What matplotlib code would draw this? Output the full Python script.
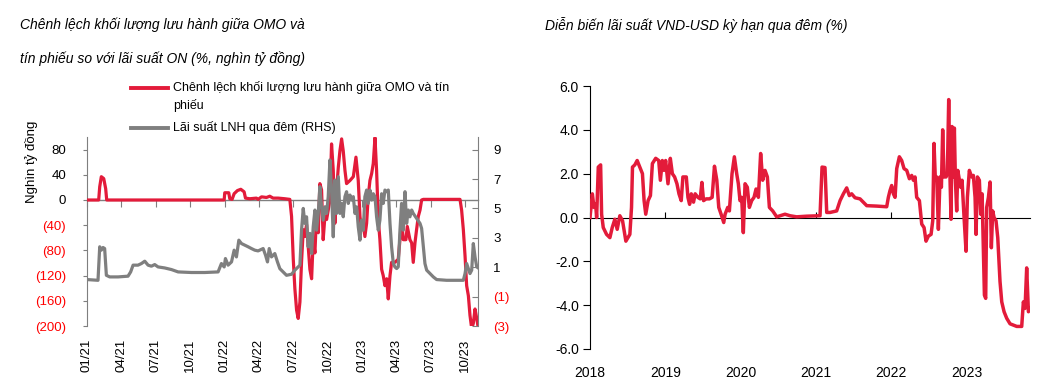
import matplotlib
matplotlib.use("Agg")
import matplotlib.pyplot as plt
from matplotlib.lines import Line2D

plt.rcParams['font.family'] = ['Liberation Sans', 'DejaVu Sans']

RED = '#E31B3A'
GRAY = '#7F7F7F'
LABEL_RED = '#FF0000'

# ---------------- Left chart data (x = months since 01/2021) ----------------
left_xticks = [0, 3, 6, 9, 12, 15, 18, 21, 24, 27, 30, 33]
left_xticklabels = ["01/21", "04/21", "07/21", "10/21", "01/22", "04/22",
                    "07/22", "10/22", "01/23", "04/23", "07/23", "10/23"]
left_yticks = [-200, -160, -120, -80, -40, 0, 40, 80]
left_yticklabels = ["(200)", "(160)", "(120)", "(80)", "(40)", "0", "40", "80"]
right_yticks = [-3, -1, 1, 3, 5, 7, 9]
right_yticklabels = ["(3)", "(1)", "1", "3", "5", "7", "9"]

omo_t = [0.0, 1.02, 1.11, 1.25, 1.46, 1.63, 1.72,
         11.97, 12.02, 12.37, 12.46, 12.66, 12.84, 13.13, 13.42, 13.71, 13.83, 14.21,
         14.79, 14.93, 15.23, 15.66, 15.95, 16.24, 16.68, 17.26,
         17.70, 17.85, 18.0, 18.14, 18.29, 18.43, 18.58, 18.72, 18.87, 19.01,
         19.16, 19.30, 19.45, 19.60, 19.74, 19.89, 20.03, 20.18, 20.32, 20.47,
         20.61, 20.76, 20.91, 21.05, 21.20, 21.34, 21.49, 21.63, 21.78, 21.93,
         22.07, 22.22, 22.36, 22.51, 22.65, 22.95, 23.24, 23.47, 23.67, 23.82,
         23.96, 24.11, 24.25, 24.40, 24.54, 24.69, 24.84, 24.98, 25.13, 25.27,
         25.42, 25.56, 25.71, 25.85, 26.00, 26.15, 26.29, 26.44, 26.58, 26.87,
         27.16, 27.31, 27.45, 27.60, 27.83, 27.95, 28.18, 28.33, 28.47, 28.62,
         28.76, 28.91, 29.06, 29.20, 29.35,
         32.55, 32.69, 32.84, 32.99, 33.13, 33.28, 33.42, 33.57, 33.71, 33.86, 34.01, 34.15]
omo_v = [0, 0, 21, 37, 34, 18, 0,
         0, 11.5, 11.5, 2, 1, 10, 15, 17, 13, 3, 2, 3, 1, 5, 4, 6, 3, 3, 2,
         1, -26, -94, -141, -175, -188, -162, -99, -47, -58,
         -39, -73, -110, -125, -63, -84, -21, -52, 26, 16,
         -63, -26, -31, -16, 0, 89, 47, -37, 16, 52,
         78, 97, 78, 47, 26, 31, 37, 68, 31, -26,
         -47, -37, -58, -37, 5, 31, 42, 58, 99, 47,
         -31, -63, -110, -120, -136, -125, -157, -120, -99, -99,
         -94, -63, -31, -63, -63, -42, -63, -68, -99, -68,
         -47, -26, -16, 0, 1,
         1, -16, -47, -89, -136, -152, -183, -204, -196, -173, -188, -204]

lnh_t = [0.0, 0.96, 1.11, 1.25, 1.40, 1.54, 1.69, 1.98, 2.71, 3.58,
         3.81, 4.02, 4.45, 4.75, 5.04, 5.33, 5.62, 5.91, 6.20, 6.78,
         7.37, 7.95, 9.11, 10.28, 11.44, 11.73, 11.97, 12.08, 12.31, 12.61,
         12.84, 13.04, 13.25, 13.48, 13.77, 14.06, 14.35, 14.64, 14.93, 15.37,
         15.58, 15.75, 15.90, 16.10, 16.39, 16.62, 16.83, 17.12, 17.41, 17.85,
         18.14, 18.43, 18.58, 18.72, 18.87, 19.01, 19.16, 19.30, 19.45, 19.60,
         19.74, 19.89, 20.03, 20.18, 20.32, 20.47, 20.61, 20.76, 20.91, 21.05,
         21.20, 21.34, 21.49, 21.63, 21.78, 21.93, 22.07, 22.22, 22.36, 22.51,
         22.65, 22.80, 22.95, 23.09, 23.24, 23.38, 23.53, 23.67, 23.82, 23.96,
         24.11, 24.25, 24.40, 24.54, 24.69, 24.84, 24.98, 25.13, 25.27, 25.42,
         25.56, 25.71, 25.85, 26.00, 26.15, 26.29, 26.44, 26.58, 26.73, 26.87,
         27.02, 27.16, 27.31, 27.45, 27.60, 27.75, 27.89, 28.04, 28.18, 28.33,
         28.47, 28.76, 29.06, 29.20, 29.35, 29.49, 29.64, 29.93, 30.22, 30.51,
         31.38, 32.84, 32.99, 33.13, 33.28, 33.42, 33.57, 33.71, 33.86, 34.01,
         34.21]
lnh_v = [0.16, 0.11, 2.39, 2.16, 2.34, 2.27, 0.45, 0.34, 0.34, 0.39,
         0.68, 1.14, 1.14, 1.25, 1.41, 1.14, 1.07, 1.18, 1.02, 0.95,
         0.84, 0.68, 0.64, 0.64, 0.68, 1.25, 1.02, 1.59, 1.14, 1.36,
         2.16, 1.7, 2.84, 2.61, 2.5, 2.39, 2.27, 2.16, 2.11, 2.27,
         1.82, 1.36, 2.27, 1.7, 1.93, 1.36, 0.9, 0.68, 0.45, 0.52,
         0.8, 1.02, 1.14, 3.52, 5.0, 3.98, 4.43, 2.39, 3.3, 1.93,
         3.75, 4.89, 3.52, 4.66, 6.48, 5.11, 4.2, 5.11, 4.66, 5.8,
         8.3, 6.25, 3.07, 6.93, 4.66, 7.16, 4.66, 5.34, 4.43, 5.8,
         6.14, 5.34, 5.91, 5.57, 5.8, 4.66, 5.11, 3.75, 2.84, 4.2,
         3.52, 5.8, 6.25, 5.34, 6.25, 5.57, 6.0, 5.8, 4.43, 3.52,
         4.2, 6.0, 5.34, 6.25, 6.14, 6.25, 3.98, 2.39, 1.25, 1.02,
         0.91, 1.02, 3.52, 5.34, 3.52, 6.14, 3.98, 4.89, 4.43, 4.89,
         4.66, 4.32, 3.98, 3.64, 2.39, 1.25, 0.8, 0.57, 0.34, 0.16,
         0.11, 0.11, 0.57, 1.25, 0.91, 0.57, 0.8, 2.61, 1.7, 1.02,
         0.91]

# ---------------- Right chart data (x = decimal year) ----------------
year_ticks = [2018, 2019, 2020, 2021, 2022, 2023]
year_labels = ["2018", "2019", "2020", "2021", "2022", "2023"]
vnd_yticks = [-6, -4, -2, 0, 2, 4, 6]
vnd_yticklabels = ["-6.0", "-4.0", "-2.0", "0.0", "2.0", "4.0", "6.0"]

vnd_t = [2018.000, 2018.031, 2018.053, 2018.075, 2018.088, 2018.110, 2018.141, 2018.154,
         2018.176, 2018.220, 2018.264, 2018.295, 2018.330, 2018.361, 2018.396, 2018.432,
         2018.476, 2018.529, 2018.551, 2018.564, 2018.595, 2018.626, 2018.661, 2018.696,
         2018.718, 2018.740, 2018.771, 2018.802, 2018.828, 2018.872, 2018.912, 2018.934,
         2018.960, 2018.982, 2019.004, 2019.035, 2019.066, 2019.093, 2019.123, 2019.154,
         2019.181, 2019.211, 2019.233, 2019.278, 2019.300, 2019.322, 2019.344, 2019.374,
         2019.396, 2019.432, 2019.463, 2019.485, 2019.507, 2019.542, 2019.586, 2019.621,
         2019.652, 2019.683, 2019.709, 2019.740, 2019.775, 2019.793, 2019.828, 2019.850,
         2019.885, 2019.916, 2019.947,
         2019.969, 2019.991, 2020.013, 2020.035, 2020.058, 2020.088, 2020.115, 2020.146,
         2020.177, 2020.204, 2020.235, 2020.265, 2020.292, 2020.323, 2020.354, 2020.381,
         2020.425, 2020.478, 2020.522, 2020.588, 2020.655, 2020.743, 2020.876, 2021.053,
         2021.080, 2021.119, 2021.142, 2021.186, 2021.274, 2021.319, 2021.363, 2021.407,
         2021.442, 2021.473, 2021.518, 2021.584, 2021.628, 2021.673, 2021.805,
         2021.938, 2021.960, 2021.982, 2022.004, 2022.027, 2022.049, 2022.071, 2022.106,
         2022.137, 2022.168, 2022.204, 2022.239, 2022.270, 2022.292, 2022.314, 2022.336,
         2022.372, 2022.403, 2022.434, 2022.460, 2022.491, 2022.527, 2022.549, 2022.566,
         2022.584, 2022.602, 2022.624, 2022.646, 2022.664, 2022.681, 2022.699, 2022.726,
         2022.743, 2022.761, 2022.779, 2022.792, 2022.805, 2022.823, 2022.836, 2022.850,
         2022.867, 2022.881, 2022.903, 2022.920, 2022.938, 2022.965, 2022.991, 2023.009,
         2023.035, 2023.066, 2023.088, 2023.111, 2023.124, 2023.142, 2023.168, 2023.186,
         2023.204, 2023.221, 2023.235, 2023.252, 2023.265, 2023.288, 2023.310, 2023.327,
         2023.345, 2023.363, 2023.389, 2023.412, 2023.442, 2023.465, 2023.496, 2023.531,
         2023.575, 2023.664, 2023.730, 2023.752, 2023.774, 2023.796, 2023.819, 2023.841]
vnd_v = [0.0, 1.08, 0.46, 0.6, 0.0, 2.3, 2.4, 0.15,
         -0.46, -0.77, -0.92, -0.46, -0.08, -0.54, 0.08, -0.15,
         -1.08, -0.77, 0.46, 2.3, 2.4, 2.6, 2.3, 2.0,
         0.77, 0.15, 0.77, 1.0, 2.46, 2.7, 2.6, 1.7,
         2.6, 2.15, 2.6, 1.54, 2.7, 2.0, 1.85, 1.54,
         1.08, 0.77, 1.85, 1.85, 0.92, 0.6, 1.08, 0.7,
         1.08, 0.92, 0.85, 1.6, 0.77, 0.85, 0.85, 0.92,
         2.34, 1.7, 0.46, 0.15, -0.23, 0.15, 0.46, 0.3,
         2.0, 2.77, 2.0,
         1.54, 0.77, 0.92, -0.69, 1.54, 1.38, 0.46, 0.77,
         0.92, 1.3, 0.92, 2.92, 1.7, 2.15, 1.85, 0.46,
         0.3, 0.03, 0.08, 0.15, 0.08, 0.03, 0.06, 0.08,
         2.3, 2.28, 0.23, 0.23, 0.3, 0.77, 1.08, 1.35,
         1.0, 1.08, 0.9, 0.85, 0.7, 0.54, 0.52,
         0.49, 0.92, 1.23, 1.46, 1.08, 0.92, 2.23, 2.77,
         2.6, 2.23, 2.15, 1.77, 1.92, 1.7, 1.85, 0.92,
         0.77, -0.3, -0.46, -1.08, -0.85, -0.77, -0.15, 3.38,
         1.7, 1.85, -0.54, 1.85, 1.38, 4.0, 1.85, 1.85,
         2.0, 5.38, 1.7, -0.08, 4.15, 1.85, 4.08, 1.7,
         0.3, 2.15, 1.7, 1.38, 1.7, 0.0, -1.54, 0.92,
         2.15, 1.85, 1.92, 0.92, -0.77, 1.85, 1.7, 0.15,
         1.08, -1.38, -3.54, -3.69, 0.46, 0.92, 1.62, -1.38,
         0.3, 0.0, -0.15, -0.92, -2.92, -3.85, -4.3, -4.6,
         -4.85, -4.97, -4.97, -3.85, -4.15, -2.3, -4.3, -4.15]

W, H = 1050, 389
fig = plt.figure(figsize=(W / 100, H / 100), dpi=100)

# ================= Left chart =================
ax = fig.add_axes([87 / W, 1 - 326 / H, (478 - 87) / W, (326 - 137) / H])
ax2 = ax.twinx()
ax.set_zorder(1)
ax.patch.set_visible(False)

ax.plot(omo_t, omo_v, color=RED, lw=2.3, solid_joinstyle='round', zorder=3)
ax2.plot(lnh_t, lnh_v, color=GRAY, lw=2.3, solid_joinstyle='round', zorder=3)
# draw gray above red: swap order
ax.set_zorder(0)
ax2.set_zorder(1)
ax2.patch.set_visible(False)
ax.patch.set_visible(True)

ax.set_xlim(0, 34.12)
ax.set_ylim(-200, 100)
ax2.set_ylim(-3, 9.86)

for s in ['top', 'bottom']:
    ax.spines[s].set_visible(False)
    ax2.spines[s].set_visible(False)
ax.spines['right'].set_visible(False)
ax2.spines['left'].set_visible(False)
ax.spines['left'].set_color(GRAY)
ax2.spines['right'].set_color(GRAY)

ax.set_yticks(left_yticks, left_yticklabels)
ax.tick_params(axis='y', direction='out', length=3, color=GRAY, pad=12, labelsize=9.5)
for lbl in ax.get_yticklabels():
    lbl.set_color(LABEL_RED if lbl.get_text().startswith('(') else 'black')

ax2.set_yticks(right_yticks, right_yticklabels)
ax2.tick_params(axis='y', direction='in', length=4, color=GRAY, pad=11, labelsize=9.5)
for lbl in ax2.get_yticklabels():
    lbl.set_color(LABEL_RED if lbl.get_text().startswith('(') else 'black')

ax.set_xticks(left_xticks, left_xticklabels, rotation=90)
ax.tick_params(axis='x', length=0, pad=9, labelsize=9.5)

zero_loc = (0 - (-200)) / (100 - (-200))
sec = ax.secondary_xaxis(zero_loc)
sec.set_alignment('bottom')
sec.set_xticks(left_xticks)
sec.tick_params(axis='x', direction='out', length=5, color=GRAY, labelbottom=False, labeltop=False)
sec.spines['bottom'].set_color(GRAY)
sec.spines['bottom'].set_linewidth(1.0)

# titles and legend (left)
fig.text(20 / W, 1 - 25 / H, "Chênh lệch khối lượng lưu hành giữa OMO và",
         style='italic', fontsize=10, va='center', ha='left')
fig.text(20 / W, 1 - 59 / H, "tín phiếu so với lãi suất ON (%, nghìn tỷ đồng)",
         style='italic', fontsize=10, va='center', ha='left')

fig.add_artist(Line2D([131 / W, 168 / W], [1 - 88 / H, 1 - 88 / H], color=RED, lw=2.8))
fig.text(173 / W, 1 - 88 / H, "Chênh lệch khối lượng lưu hành giữa OMO và tín",
         fontsize=9, va='center', ha='left')
fig.text(173 / W, 1 - 106 / H, "phiếu", fontsize=9, va='center', ha='left')
fig.add_artist(Line2D([131 / W, 168 / W], [1 - 128 / H, 1 - 128 / H], color=GRAY, lw=2.8))
fig.text(173 / W, 1 - 128 / H, "Lãi suất LNH qua đêm (RHS)",
         fontsize=9, va='center', ha='left')

fig.text(31 / W, 1 - 162 / H, "Nghìn tỷ đồng", rotation=90, fontsize=9.5,
         va='center', ha='center')

# ================= Right chart =================
ax3 = fig.add_axes([590 / W, 1 - 349 / H, 440 / W, 263 / H])
ax3.plot(vnd_t, vnd_v, color=RED, lw=2.5, solid_joinstyle='round', zorder=3)
ax3.set_xlim(2018.0, 2023.84)
ax3.set_ylim(-6, 6)
for s in ['top', 'right', 'bottom']:
    ax3.spines[s].set_visible(False)
ax3.spines['left'].set_color('black')
ax3.set_yticks(vnd_yticks, vnd_yticklabels)
ax3.tick_params(axis='y', direction='out', length=5, color='black', pad=3, labelsize=10)
ax3.set_xticks(year_ticks, year_labels)
ax3.tick_params(axis='x', length=0, pad=12, labelsize=10)

sec3 = ax3.secondary_xaxis(0.5)
sec3.set_alignment('bottom')
sec3.set_xticks(year_ticks)
sec3.tick_params(axis='x', direction='in', length=4, color='black', labelbottom=False, labeltop=False)
sec3.spines['bottom'].set_color('black')

fig.text(545 / W, 1 - 25 / H, "Diễn biến lãi suất VND-USD kỳ hạn qua đêm (%)",
         style='italic', fontsize=10, va='center', ha='left')

fig.savefig("out.png", dpi=100)
